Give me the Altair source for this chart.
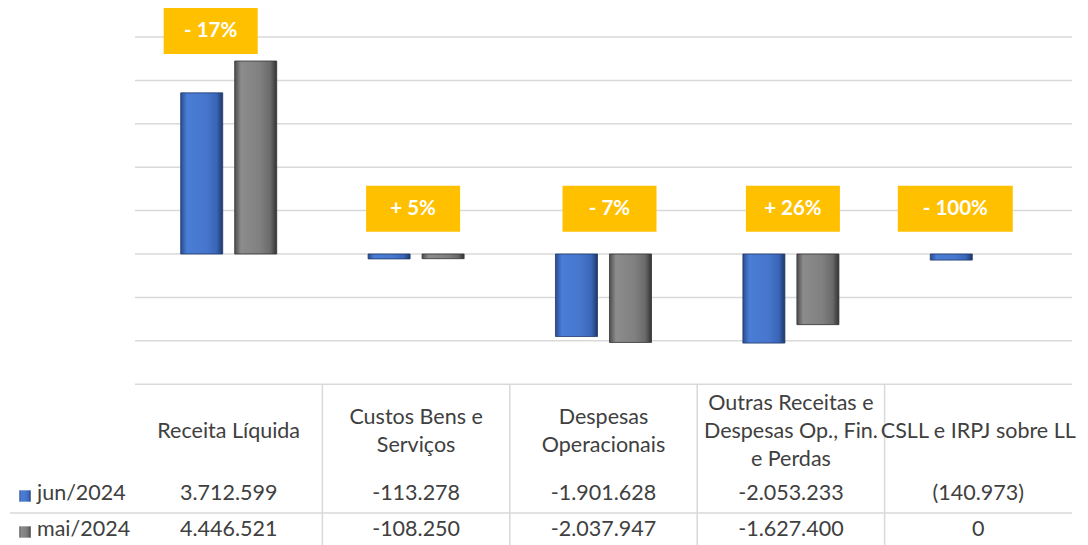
import altair as alt
import pandas as pd

categories = [
    "Receita Líquida",
    "Custos Bens e\nServiços",
    "Despesas\nOperacionais",
    "Outras Receitas e\nDespesas Op., Fin.\ne Perdas",
    "CSLL e IRPJ sobre LL",
]
series = ["jun/2024", "mai/2024"]
jun_values = [3712599, -113278, -1901628, -2053233, -140973]
mai_values = [4446521, -108250, -2037947, -1627400, 0]
jun_text = ["3.712.599", "-113.278", "-1.901.628", "-2.053.233", "(140.973)"]
mai_text = ["4.446.521", "-108.250", "-2.037.947", "-1.627.400", "0"]
change_labels = ["- 17%", "+ 5%", "- 7%", "+ 26%", "- 100%"]
grid_ticks = [-3000000, -2000000, -1000000, 0, 1000000, 2000000, 3000000, 4000000, 5000000]

FONT = "Lato"
TXT = "#404040"
GRID = "#d9d9d9"
FS = 21.5

long_rows = []
for c, j, m in zip(categories, jun_values, mai_values):
    long_rows.append({"cat": c, "series": series[0], "value": j})
    long_rows.append({"cat": c, "series": series[1], "value": m})
df_long = pd.DataFrame(long_rows)

df_cat = pd.DataFrame({
    "cat": categories,
    "idx": list(range(len(categories))),
    "jun": jun_values,
    "mai": mai_values,
    "jun_text": jun_text,
    "mai_text": mai_text,
    "label": change_labels,
})
df_legend = pd.DataFrame({"series": series, "row": [0, 1]})
df_grid = pd.DataFrame({"tick": grid_ticks})

blue_grad = alt.Gradient(
    gradient="linear", x1=0, x2=1, y1=0, y2=0,
    stops=[
        alt.GradientStop(color="#2a4d8f", offset=0),
        alt.GradientStop(color="#4a7dd6", offset=0.15),
        alt.GradientStop(color="#4776cc", offset=0.6),
        alt.GradientStop(color="#3a66b8", offset=0.85),
        alt.GradientStop(color="#1e3869", offset=1),
    ],
)
gray_grad = alt.Gradient(
    gradient="linear", x1=0, x2=1, y1=0, y2=0,
    stops=[
        alt.GradientStop(color="#4d4d4d", offset=0),
        alt.GradientStop(color="#8c8c8c", offset=0.15),
        alt.GradientStop(color="#808080", offset=0.6),
        alt.GradientStop(color="#6a6a6a", offset=0.85),
        alt.GradientStop(color="#333333", offset=1),
    ],
)

x_scale = alt.Scale(paddingInner=0, paddingOuter=0)
x_enc = alt.X("cat:N", sort=categories, scale=x_scale, axis=None)
y_scale = alt.Scale(domain=[-6705000, 5668000], nice=False, zero=False)
xoff = alt.XOffset("series:N", sort=series,
                   scale=alt.Scale(paddingInner=0.222, paddingOuter=0.846))

grid = alt.Chart(df_grid).mark_rule(color=GRID, strokeWidth=1.5).encode(
    y=alt.Y("tick:Q", scale=y_scale, axis=None)
)

bars_jun = alt.Chart(df_long).transform_filter(
    (alt.datum.series == series[0]) & (alt.datum.value != 0)
).mark_bar(color=blue_grad, stroke="#1e3869", strokeWidth=0.8).encode(
    x=x_enc, xOffset=xoff, y=alt.Y("value:Q", scale=y_scale, axis=None)
)
bars_mai = alt.Chart(df_long).transform_filter(
    (alt.datum.series == series[1]) & (alt.datum.value != 0)
).mark_bar(color=gray_grad, stroke="#333333", strokeWidth=0.8).encode(
    x=x_enc, xOffset=xoff, y=alt.Y("value:Q", scale=y_scale, axis=None)
)

label_base = alt.Chart(df_cat).transform_calculate(
    ylab="max(datum.jun, datum.mai) > 1000000 ? max(datum.jun, datum.mai) + 690000 : 1040000"
).transform_calculate(
    ylo="datum.ylab - 530000", yhi="datum.ylab + 530000"
)


def box_layers(idx, width, shift):
    sub = label_base.transform_filter(alt.datum.idx == idx)
    box = sub.mark_bar(width=width, color="#FFC000", xOffset=shift).encode(
        x=x_enc, y=alt.Y("ylo:Q", scale=y_scale, axis=None), y2="yhi:Q"
    )
    txt = sub.mark_text(
        color="white", fontWeight="bold", fontSize=20.5, font=FONT,
        baseline="middle", dx=shift
    ).encode(x=x_enc, y=alt.Y("ylab:Q", scale=y_scale, axis=None), text="label:N")
    return [box, txt]


label_layers = []
for i, (w, s) in enumerate([(94, -18), (94, -3), (94, 6), (94, 2), (115, -23)]):
    label_layers += box_layers(i, w, s)

header_base = alt.Chart(df_cat).transform_calculate(
    nlines="length(split(datum.cat, '\\n'))"
)
header_layers = []
for n, ypix in [(1, 424), (2, 410), (3, 396)]:
    header_layers.append(
        header_base.transform_filter(alt.datum.nlines == n).mark_text(
            lineBreak="\n", lineHeight=28, fontSize=FS, font=FONT, color=TXT,
            baseline="middle"
        ).encode(x=x_enc, y=alt.value(ypix), text="cat:N")
    )

row_jun = alt.Chart(df_cat).mark_text(
    fontSize=FS, font=FONT, color=TXT, baseline="middle"
).encode(x=x_enc, y=alt.value(486), text="jun_text:N")
row_mai = alt.Chart(df_cat).mark_text(
    fontSize=FS, font=FONT, color=TXT, baseline="middle"
).encode(x=x_enc, y=alt.value(522), text="mai_text:N")

vdiv = alt.Chart(df_cat).transform_filter(
    alt.datum.idx > 0
).mark_rule(color=GRID, strokeWidth=1.5).encode(
    x=alt.X("cat:N", sort=categories, bandPosition=0, scale=x_scale, axis=None),
    y=alt.value(376), y2=alt.value(537),
)
hline = alt.Chart(df_legend).transform_filter(alt.datum.row == 0).mark_rule(
    color=GRID, strokeWidth=1.5
).encode(x=alt.value(-125), x2=alt.value(937), y=alt.value(505))

leg_text_jun = alt.Chart(df_legend).transform_filter(alt.datum.row == 0).mark_text(
    fontSize=FS, font=FONT, color=TXT, align="left", baseline="middle"
).encode(x=alt.value(-98), y=alt.value(486), text="series:N")
leg_text_mai = alt.Chart(df_legend).transform_filter(alt.datum.row == 1).mark_text(
    fontSize=FS, font=FONT, color=TXT, align="left", baseline="middle"
).encode(x=alt.value(-98), y=alt.value(522), text="series:N")
leg_sq_jun = alt.Chart(df_legend).transform_filter(alt.datum.row == 0).mark_square(
    size=130, color=blue_grad, opacity=1
).encode(x=alt.value(-110), y=alt.value(488))
leg_sq_mai = alt.Chart(df_legend).transform_filter(alt.datum.row == 1).mark_square(
    size=130, color=gray_grad, opacity=1
).encode(x=alt.value(-110), y=alt.value(524))

chart = alt.layer(
    grid, bars_jun, bars_mai, vdiv, hline, *label_layers,
    *header_layers, row_jun, row_mai, leg_sq_jun, leg_sq_mai, leg_text_jun, leg_text_mai,
).properties(
    width=937, height=537,
    padding={"left": 127, "top": 0, "right": 5, "bottom": 0},
    autosize=alt.AutoSizeParams(type="none"),
).configure_view(stroke=None)

chart.save("out.html", embed_options={"renderer": "svg", "actions": False})
